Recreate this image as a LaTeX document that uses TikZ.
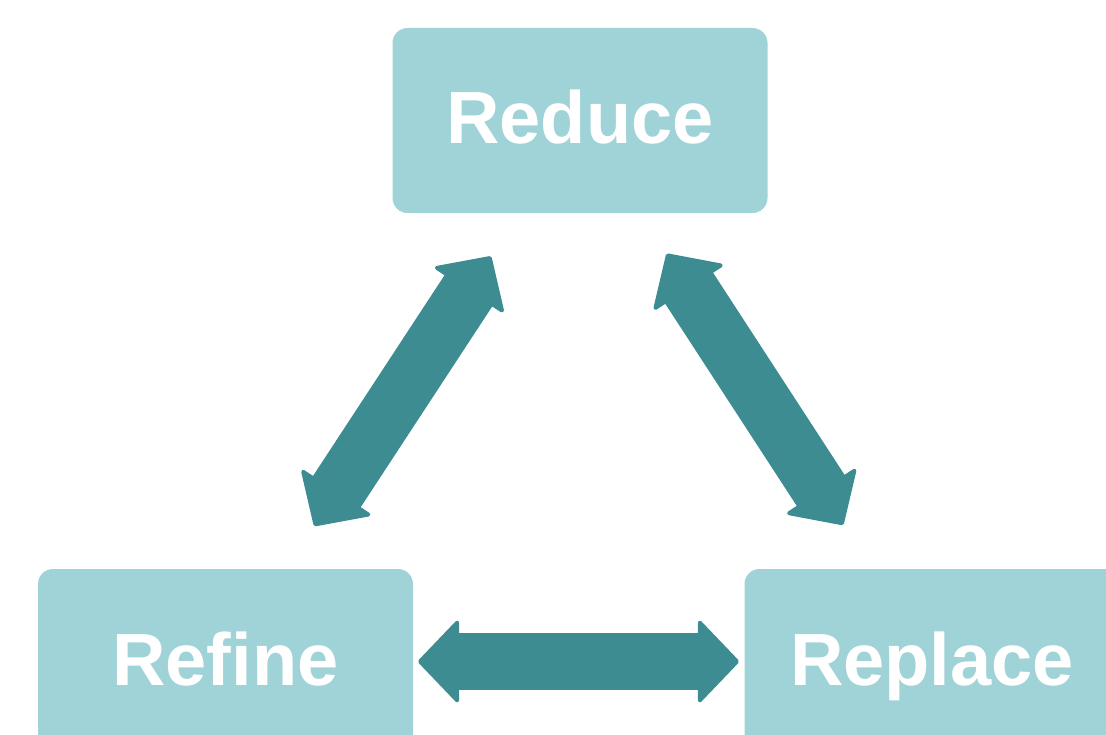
\documentclass[tikz,border=0pt]{standalone}
\usepackage{fontspec}
\setmainfont{Liberation Sans}
\usetikzlibrary{arrows.meta}
\definecolor{boxfill}{RGB}{160,211,216}
\definecolor{arrowteal}{RGB}{61,140,146}
\begin{document}
\begin{tikzpicture}[x=1pt,y=-1pt,
  stagebox/.style={rectangle, rounded corners=15pt, fill=boxfill, draw=none,
    minimum width=375pt, minimum height=185pt, inner sep=0pt,
    text=white, font=\fontsize{74}{80}\selectfont\bfseries,
    text height=53pt, text depth=6pt},
  twoway/.style={draw=arrowteal, line width=57pt,
    {Triangle[length=42pt,width=87pt,line width=4pt,round]}-{Triangle[length=42pt,width=87pt,line width=4pt,round]}}]
  \useasboundingbox (0,0) rectangle (1106,735);
  \clip (0,0) rectangle (1106,735);

  % the three stages
  \node[stagebox] (reduce)  at (580,120.5)   {Reduce};
  \node[stagebox] (refine)  at (225.5,661.5) {Refine};
  \node[stagebox] (replace) at (932,661.5)   {Replace};

  % two-way links between the stages
  \draw[twoway, shorten <=162.5pt, shorten >=162pt] (reduce.center) -- (refine.center);
  \draw[twoway, shorten <=159pt, shorten >=163pt] (reduce.center) -- (replace.center);
  \draw[twoway, shorten <=192.5pt, shorten >=193pt] (refine.center) -- (replace.center);
\end{tikzpicture}
\end{document}
